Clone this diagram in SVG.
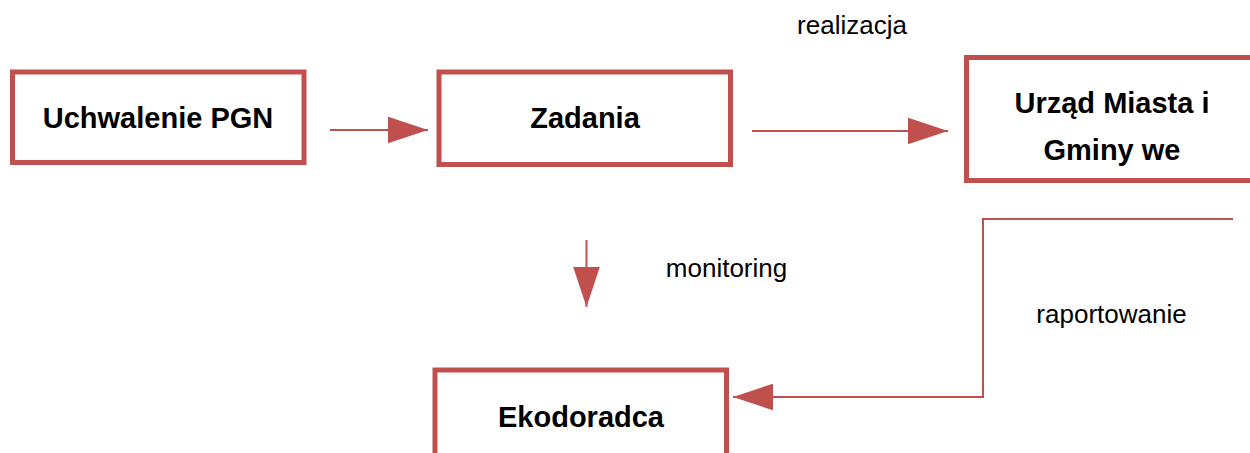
<svg xmlns="http://www.w3.org/2000/svg" width="1250" height="453" viewBox="0 0 1250 453">
<style>
.box{fill:#fff;stroke:#c0504d;stroke-width:5}
.conn{fill:none;stroke:#c0504d;stroke-width:2}
.t{font-family:"Liberation Sans",Arial,sans-serif;font-weight:bold;font-size:29px;fill:#000;text-anchor:middle}
.l{font-family:"Liberation Sans",Arial,sans-serif;font-size:26px;fill:#000;text-anchor:middle}
</style>
<defs>
<marker id="ah" markerUnits="userSpaceOnUse" markerWidth="40" markerHeight="27" viewBox="0 0 39 26" refX="39" refY="13" orient="auto">
<path d="M0,0 L39,13 L0,26 Z" fill="#c0504d"/>
</marker>
</defs>
<rect width="1250" height="453" fill="#fff"/>
<g id="connectors">
<line class="conn" x1="330" y1="130" x2="428" y2="130" marker-end="url(#ah)"/>
<line class="conn" x1="752" y1="131" x2="948" y2="131" marker-end="url(#ah)"/>
<line class="conn" x1="586.5" y1="240" x2="586.5" y2="307" marker-end="url(#ah)"/>
<polyline class="conn" points="1233,219 983,219 983,397 733,397" marker-end="url(#ah)"/>
</g>
<g id="node-uchwalenie">
<rect class="box" x="12.5" y="72" width="291.5" height="90.5"/>
<text class="t" x="158" y="128">Uchwalenie PGN</text>
</g>
<g id="node-zadania">
<rect class="box" x="439" y="72" width="291.5" height="92.5"/>
<text class="t" x="585" y="128">Zadania</text>
</g>
<g id="node-urzad">
<rect class="box" x="966.5" y="57.5" width="300" height="123"/>
<text class="t" x="1112" y="113">Urząd Miasta i</text>
<text class="t" x="1112" y="160">Gminy we</text>
</g>
<g id="node-ekodoradca">
<rect class="box" x="435" y="370" width="291.5" height="100"/>
<text class="t" x="581" y="427">Ekodoradca</text>
</g>
<g id="labels">
<text class="l" x="852" y="34">realizacja</text>
<text class="l" x="726.5" y="277">monitoring</text>
<text class="l" x="1111.5" y="323">raportowanie</text>
</g>
</svg>
